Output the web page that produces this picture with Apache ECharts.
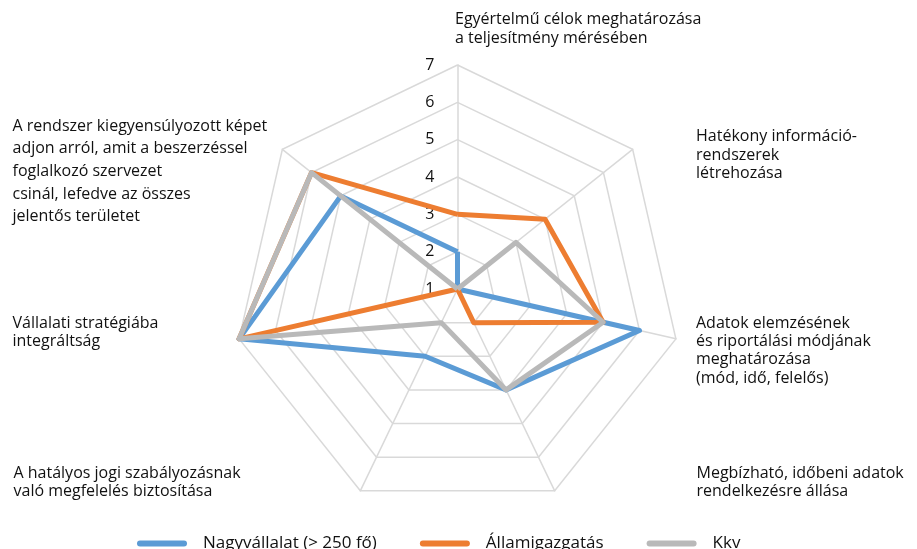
<!DOCTYPE html>
<html><head><meta charset="utf-8">
<script src="https://cdn.jsdelivr.net/npm/echarts@6/dist/echarts.min.js"></script>
<style>html,body{margin:0;padding:0;background:#fff}#c{width:917px;height:549px}</style>
</head><body><div id="c"></div>
<script>
// Categories in ECharts radar order (counter-clockwise starting at the top)
const categories = [
  'Egyértelmű célok meghatározása\na teljesítmény mérésében',
  'A rendszer kiegyensúlyozott képet\nadjon arról, amit a beszerzéssel\nfoglalkozó szervezet\ncsinál, lefedve az összes\njelentős területet',
  'Vállalati stratégiába\nintegráltság',
  'A hatályos jogi szabályozásnak\nvaló megfelelés biztosítása',
  'Megbízható, időbeni adatok\nrendelkezésre állása',
  'Adatok elemzésének\nés riportálási módjának\nmeghatározása\n(mód, idő, felelős)',
  'Hatékony információ-\nrendszerek\nlétrehozása'
];
const seriesNames = ['Nagyvállalat (> 250 fő)', 'Államigazgatás', 'Kkv'];
const nagyvallalat   = [2, 5, 7, 3, 4, 6, 1];
const allamigazgatas = [3, 6, 7, 1, 2, 5, 4];
const kkv            = [1, 6, 7, 2, 4, 5, 3];
const tickLabels = ['1', '2', '3', '4', '5', '6', '7'];
const axisMin = 1, axisMax = 7;

// layout (positions / styles) kept separate from data
const FONT = '"Open Sans", "Noto Sans", sans-serif';
const FS = 16;
const labelLayout = [
  {x: 455, y: 10.5, lh: 18.3},
  {x: 12.5, y: 115, lh: 22.6},
  {x: 12.5, y: 314, lh: 18.3},
  {x: 13.5, y: 464, lh: 18.3},
  {x: 696.5, y: 464, lh: 18.3},
  {x: 696, y: 314, lh: 18.3},
  {x: 696, y: 127.5, lh: 18.3}
];
const colors = ['#5b9bd5', '#ed7d31', '#b9b9b9'];

const chart = echarts.init(document.getElementById('c'), null, {renderer: 'canvas'});
const option = {
  animation: false,
  backgroundColor: '#fff',
  color: colors,
  legend: {
    left: 137, top: 535, padding: 0,
    itemWidth: 50, itemHeight: 6, itemGap: 43,
    icon: 'path://M3,0L47,0A3,3,0,0,1,47,6L3,6A3,3,0,0,1,3,0Z',
    textStyle: {fontSize: 17, fontFamily: FONT, color: '#111', padding: [0, 0, 0, 11]},
    data: seriesNames
  },
  radar: {
    center: [457.5, 289],
    radius: 224,
    startAngle: 90,
    splitNumber: 6,
    shape: 'polygon',
    axisName: {show: false},
    indicator: categories.map((c, i) => {
      const ind = {name: c, min: axisMin, max: axisMax};
      if (i === 0) {
        ind.axisLabel = {
          show: true, color: '#111', fontSize: FS, fontFamily: FONT, margin: 23,
          formatter: v => tickLabels[Math.round(v) - axisMin]
        };
      }
      return ind;
    }),
    splitLine: {lineStyle: {color: '#d9d9d9', width: 1.5}},
    splitArea: {show: false},
    axisLine: {lineStyle: {color: '#d9d9d9', width: 1.5}},
    axisTick: {show: false},
    axisLabel: {show: false}
  },
  graphic: categories.map((c, i) => ({
    type: 'text',
    x: labelLayout[i].x, y: labelLayout[i].y,
    style: {
      text: c, fill: '#111', fontSize: FS, fontFamily: FONT,
      lineHeight: labelLayout[i].lh, align: 'left', verticalAlign: 'top'
    }
  })),
  series: [{
    type: 'radar',
    symbol: 'none',
    lineStyle: {width: 5, join: 'round'},
    data: [
      {name: seriesNames[0], value: nagyvallalat, lineStyle: {color: colors[0], width: 5}},
      {name: seriesNames[1], value: allamigazgatas, lineStyle: {color: colors[1], width: 5}},
      {name: seriesNames[2], value: kkv, lineStyle: {color: colors[2], width: 5}}
    ]
  }]
};
chart.setOption(option);
</script>
</body></html>
